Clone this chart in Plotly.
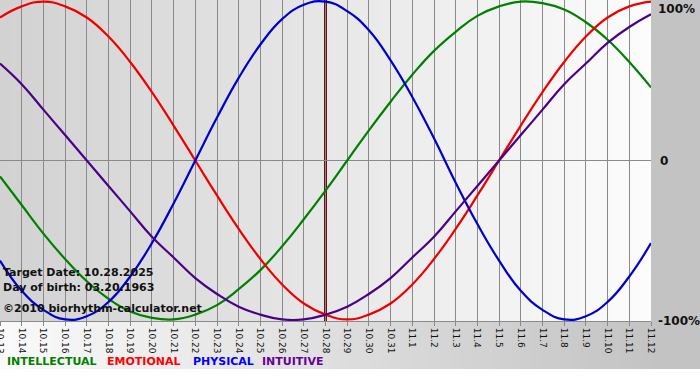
import plotly.graph_objects as go

DATES = ["10.13", "10.14", "10.15", "10.16", "10.17", "10.18", "10.19", "10.20",
         "10.21", "10.22", "10.23", "10.24", "10.25", "10.26", "10.27", "10.28",
         "10.29", "10.30", "10.31", "11.1", "11.2", "11.3", "11.4", "11.5",
         "11.6", "11.7", "11.8", "11.9", "11.10", "11.11", "11.12"]

INTELLECTUAL = [-0.10, -0.28, -0.46, -0.62, -0.76, -0.87, -0.95, -0.99, -1.00, -0.97,
                -0.91, -0.81, -0.69, -0.54, -0.37, -0.19, 0.00, 0.19, 0.37, 0.54,
                0.69, 0.81, 0.91, 0.97, 1.00, 0.99, 0.95, 0.87, 0.76, 0.62, 0.46]
EMOTIONAL = [0.90, 0.97, 1.00, 0.97, 0.90, 0.78, 0.62, 0.43, 0.22, 0.00,
             -0.22, -0.43, -0.62, -0.78, -0.90, -0.97, -1.00, -0.97, -0.90, -0.78,
             -0.62, -0.43, -0.22, 0.00, 0.22, 0.43, 0.62, 0.78, 0.90, 0.97, 1.00]
PHYSICAL = [-0.63, -0.82, -0.94, -1.00, -0.98, -0.89, -0.73, -0.52, -0.27, 0.00,
            0.27, 0.52, 0.73, 0.89, 0.98, 1.00, 0.94, 0.82, 0.63, 0.40,
            0.14, -0.14, -0.40, -0.63, -0.82, -0.94, -1.00, -0.98, -0.89, -0.73, -0.52]
INTUITIVE = [0.61, 0.48, 0.32, 0.16, 0.00, -0.16, -0.32, -0.48, -0.61, -0.74,
             -0.84, -0.92, -0.97, -1.00, -1.00, -0.97, -0.92, -0.84, -0.74, -0.61,
             -0.48, -0.32, -0.16, 0.00, 0.16, 0.32, 0.48, 0.61, 0.74, 0.84, 0.92]

TARGET_DATE = "10.28"
SERIES = [
    ("INTELLECTUAL", INTELLECTUAL, "#008000"),
    ("EMOTIONAL", EMOTIONAL, "#ee0000"),
    ("PHYSICAL", PHYSICAL, "#0000cc"),
    ("INTUITIVE", INTUITIVE, "#4b0088"),
]
LEGEND_COLORS = {"INTELLECTUAL": "#008000", "EMOTIONAL": "#ff0000",
                 "PHYSICAL": "#0000ff", "INTUITIVE": "#660099"}
INFO_LINES = ["Target Date: 10.28.2025", "Day of birth: 03.20.1963",
              "\u00a92010 biorhythm-calculator.net"]

W, H = 700, 380
ML, MR, MT, MB = 0, 49, 0, 59
PH = H - MT - MB  # plot height in px
BOTTOM_STRIP = 48  # px of grey strip below plot

FONT = "DejaVu Sans"
X_IDX = list(range(len(DATES)))

fig = go.Figure()
for name, vals, col in SERIES:
    fig.add_trace(go.Scatter(x=X_IDX, y=vals, mode="lines", name=name,
                             line=dict(color=col, width=2.2, shape="spline", smoothing=1.3),
                             hoverinfo="skip"))

def lerp(c0, c1, t):
    return "rgb(%d,%d,%d)" % tuple(round(a + (b - a) * t) for a, b in zip(c0, c1))

shapes = []
N = 65
# plot background gradient
for k in range(N):
    t = k / (N - 1)
    shapes.append(dict(type="rect", xref="paper", yref="paper", x0=k / N, x1=(k + 1) / N + 0.002,
                       y0=0, y1=1, fillcolor=lerp((210, 210, 210), (252, 252, 252), t),
                       line=dict(width=0), layer="below"))
# bottom strip gradient (white -> grey)
xr = W / (W - ML - MR)
yb = -BOTTOM_STRIP / PH
for k in range(N):
    t = k / (N - 1)
    shapes.append(dict(type="rect", xref="paper", yref="paper", x0=k / N, x1=(k + 1) / N + 0.002,
                       y0=yb, y1=0, fillcolor=lerp((250, 250, 250), (196, 196, 196), t),
                       line=dict(width=0), layer="below"))
# right grey panel
shapes.append(dict(type="rect", xref="paper", yref="paper", x0=1, x1=xr, y0=yb, y1=1,
                   fillcolor="#c3c3c3", line=dict(width=0), layer="below"))
# target date line
tx = DATES.index(TARGET_DATE)
shapes.append(dict(type="line", xref="x", yref="paper", x0=tx, x1=tx,
                   y0=0, y1=1, line=dict(color="#6a1010", width=3), layer="between"))

annotations = []
for i, txt in enumerate(INFO_LINES):
    ypx = [272, 287, 308][i]
    annotations.append(dict(text="<b>%s</b>" % txt, xref="paper", yref="paper", x=0, xanchor="left", xshift=1,
                            y=1 - ypx / PH, yanchor="middle", showarrow=False,
                            font=dict(family=FONT, size=11, color="#111111")))
for txt, yv, ya in [("100%", 1, "top"), ("0", 0.5, "middle"), ("-100%", 0, "middle")]:
    annotations.append(dict(text="<b>%s</b>" % txt, xref="paper", yref="paper", x=1, xanchor="left",
                            xshift=5 if txt != "0" else 7, y=yv, yanchor=ya, showarrow=False,
                            font=dict(family=FONT, size=12, color="#111111")))
leg_x = [7, 107, 193, 262]
for (name, _, _), lx in zip(SERIES, leg_x):
    annotations.append(dict(text="<b>%s</b>" % name, xref="paper", yref="paper",
                            x=lx / (W - ML - MR), xanchor="left", xshift=-2,
                            y=1 - 361 / PH, yanchor="middle", showarrow=False,
                            font=dict(family=FONT, size=11, color=LEGEND_COLORS[name])))
# first tick label (clipped at left edge, as in the reference)
annotations.append(dict(text=DATES[0], xref="x", yref="paper", x=X_IDX[0], xanchor="center",
                        y=0, yanchor="top", yshift=-5, textangle=90, showarrow=False,
                        font=dict(family=FONT, size=9, color="#111111")))

fig.update_layout(
    width=W, height=H, margin=dict(l=ML, r=MR, t=MT, b=MB),
    paper_bgcolor="white", plot_bgcolor="rgba(0,0,0,0)",
    showlegend=False, shapes=shapes, annotations=annotations,
    font=dict(family=FONT, size=9, color="#111111"),
    xaxis=dict(range=[0, len(DATES) - 1], tickmode="array", tickvals=X_IDX, ticktext=DATES,
               showgrid=True, gridcolor="#8a8a8a",
               gridwidth=1, tickangle=90, ticks="outside", ticklen=4, tickcolor="#8a8a8a",
               showline=True, linecolor="#8a8a8a", linewidth=1, zeroline=False,
               tickfont=dict(family=FONT, size=9, color="#111111"), fixedrange=True),
    yaxis=dict(range=[-1.01, 1.01], showgrid=False, zeroline=True, zerolinecolor="#8a8a8a",
               zerolinewidth=1, showticklabels=False, ticks="", showline=False, fixedrange=True),
)

fig.write_html("out.html", config={"displayModeBar": False},
               post_script="document.body.style.margin='0';document.body.style.overflow='hidden';")
